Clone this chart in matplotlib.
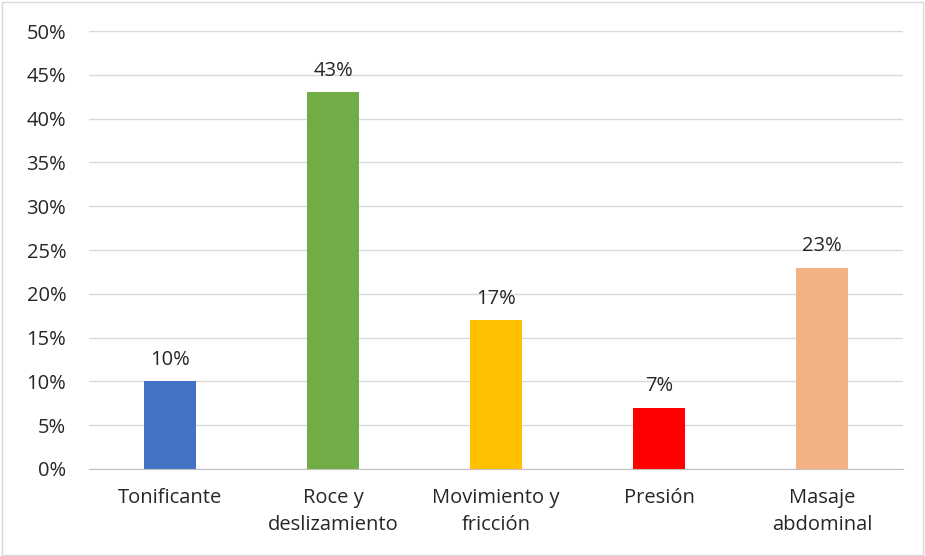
import matplotlib.pyplot as plt
from matplotlib.patches import Rectangle
from matplotlib.ticker import FuncFormatter
import numpy as np

categories = ["Tonificante", "Roce y\ndeslizamiento", "Movimiento y\nfricción", "Presión", "Masaje\nabdominal"]
values = [10, 43, 17, 7, 23]
colors = ["#4472C4", "#70AD47", "#FFC000", "#FF0000", "#F4B183"]

plt.rcParams['font.family'] = ['Open Sans', 'DejaVu Sans']
FS = 14.5

fig = plt.figure(figsize=(9.25, 5.56), dpi=100)
ax = fig.add_axes([0.0957, 0.1565, 0.881, 0.7877])

x = np.arange(len(categories))
bars = ax.bar(x, values, width=0.32, color=colors, zorder=3)

for bar, v in zip(bars, values):
    ax.text(bar.get_x() + bar.get_width() / 2, v + 1.3, f"{v}%",
            ha='center', va='bottom', fontsize=FS, color='#262626')

ax.set_xlim(-0.5, len(categories) - 0.5)
ax.set_ylim(0, 50)
ax.set_yticks(np.arange(0, 51, 5))
ax.yaxis.set_major_formatter(FuncFormatter(lambda v, _: f"{int(v)}%"))
ax.set_xticks(x)
ax.set_xticklabels(categories, fontsize=FS, color='#262626', linespacing=1.45)
ax.tick_params(axis='y', labelsize=FS, labelcolor='#262626', length=0, pad=16)
ax.tick_params(axis='x', length=0, pad=14)

ax.grid(True, axis='y', color='#D9D9D9', linewidth=1, zorder=0)
for side in ['top', 'right', 'left']:
    ax.spines[side].set_visible(False)
ax.spines['bottom'].set_color('#BFBFBF')
ax.spines['bottom'].set_zorder(4)

# thin frame round the whole chart
fig.patches.append(Rectangle((0.002, 0.002), 0.996, 0.994, transform=fig.transFigure,
                             fill=False, edgecolor='#D9D9D9', linewidth=1))

fig.savefig("out.png", dpi=100)
